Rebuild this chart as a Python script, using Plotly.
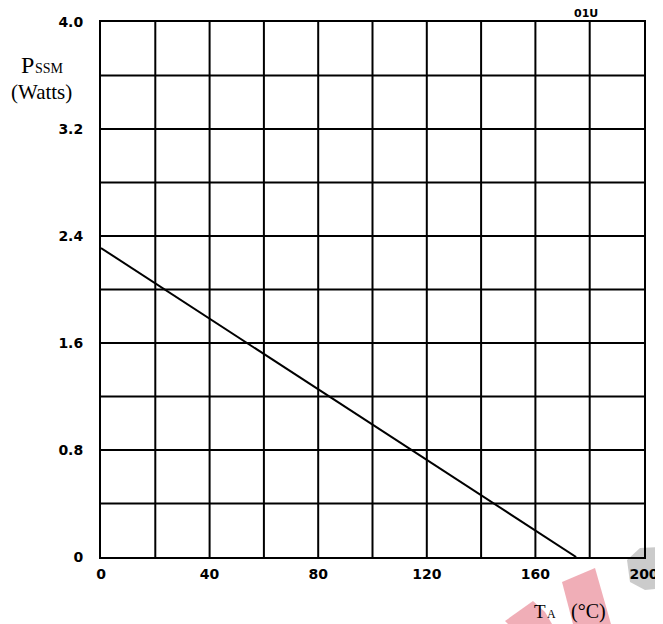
import plotly.graph_objects as go

# Data
ta = [0, 175]
pssm = [2.31, 0.0]
x_ticks = [0, 40, 80, 120, 160, 200]
x_ticklabels = ["0", "40", "80", "120", "160", "200"]
y_ticks = [0, 0.8, 1.6, 2.4, 3.2, 4.0]
y_ticklabels = ["0", "0.8", "1.6", "2.4", "3.2", "4.0"]

OFF = 8  # page body offset
W, H = 663 - OFF, 624 - OFF
PL, PR, PT, PB = 101, 644, 22, 557  # plot area in screen pixels

fig = go.Figure()
fig.add_trace(go.Scatter(x=ta, y=pssm, mode="lines",
                         line=dict(color="black", width=2), showlegend=False,
                         hoverinfo="skip"))


def px(x, y):
    return (x - PL) / (PR - PL), (PB - y) / (PB - PT)


def path(pts):
    s = ""
    for i, (x, y) in enumerate(pts):
        xx, yy = px(x, y)
        s += ("M" if i == 0 else "L") + f"{xx:.4f},{yy:.4f} "
    return s + "Z"


pink = "rgba(230,120,135,0.6)"
shapes = [
    dict(type="path", xref="paper", yref="paper",
         path=path([(562, 582), (595, 568), (611, 624), (573, 624)]),
         fillcolor=pink, line=dict(width=0), layer="below"),
    dict(type="path", xref="paper", yref="paper",
         path=path([(505, 621), (533, 601), (545, 612), (552, 624), (508, 624)]),
         fillcolor=pink, line=dict(width=0), layer="below"),
    dict(type="path", xref="paper", yref="paper",
         path=path([(627, 560), (640, 548), (658, 547), (663, 552), (663, 588),
                    (645, 590), (630, 582)]),
         fillcolor="rgba(140,140,140,0.45)", line=dict(width=0), layer="below"),
]

tickf = dict(size=14, family="DejaVu Sans", weight="bold", color="black")

fig.update_layout(
    width=W, height=H,
    margin=dict(l=PL - OFF, r=663 - PR, t=PT - OFF, b=H + OFF - PB, autoexpand=False),
    paper_bgcolor="white", plot_bgcolor="white",
    font=dict(family="Liberation Sans", color="black"),
    shapes=shapes,
    xaxis=dict(range=[0, 200], tickvals=x_ticks, ticktext=x_ticklabels,
               showgrid=False, zeroline=False, showline=True, mirror=True,
               automargin=False,
               linecolor="black", linewidth=2, ticks="", ticklabelstandoff=3,
               tickfont=tickf),
    yaxis=dict(range=[0, 4.0], tickvals=y_ticks, ticktext=y_ticklabels,
               showgrid=False, zeroline=False, showline=True, mirror=True,
               automargin=False,
               linecolor="black", linewidth=2, ticks="", ticklabelstandoff=13,
               tickfont=tickf),
)

for gx in range(20, 200, 20):
    fig.add_shape(type="line", x0=gx, x1=gx, y0=0, y1=4.0, xref="x", yref="y",
                  line=dict(color="black", width=2))
for i in range(1, 10):
    gy = i * 0.4
    fig.add_shape(type="line", x0=0, x1=200, y0=gy, y1=gy, xref="x", yref="y",
                  line=dict(color="black", width=2))

serif = dict(family="Liberation Serif", color="black")
ann = [
    (27, 65, "P", 24, serif, "center"),
    (33, 68, "SSM", 14, serif, "left"),
    (41, 92, "(Watts)", 21, serif, "center"),
    (540, 611, "T", 19, serif, "center"),
    (551, 614, "A", 12, serif, "center"),
    (588, 611, "(°C)", 20, serif, "center"),
    (586, 13, "01U", 11, dict(family="DejaVu Sans", weight="bold", color="black"), "center"),
]
for x, y, t, s, f, al in ann:
    xx, yy = px(x, y)
    fig.add_annotation(x=xx, y=yy, xref="paper", yref="paper", text=t,
                       showarrow=False, font=dict(size=s, **f),
                       xanchor=al, yanchor="middle")

fig.write_html("out.html")
